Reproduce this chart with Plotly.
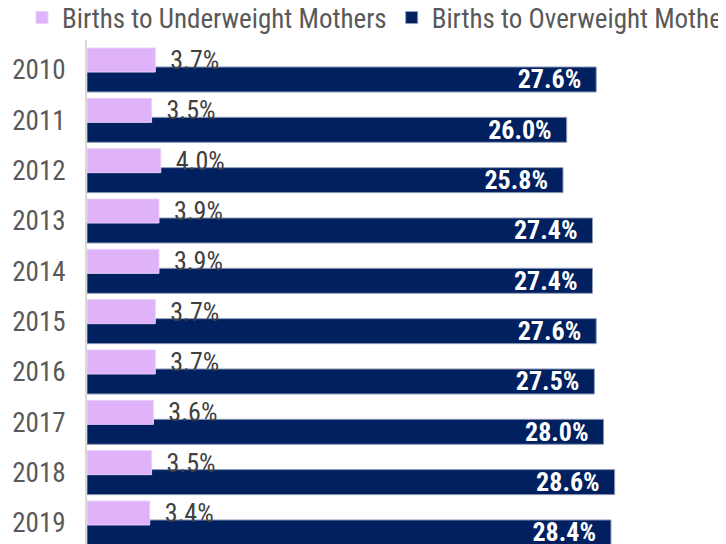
import plotly.graph_objects as go

years = ["2010", "2011", "2012", "2013", "2014", "2015", "2016", "2017", "2018", "2019"]
underweight = [3.7, 3.5, 4.0, 3.9, 3.9, 3.7, 3.7, 3.6, 3.5, 3.4]
overweight = [27.6, 26.0, 25.8, 27.4, 27.4, 27.6, 27.5, 28.0, 28.6, 28.4]
series_names = ["Births to Underweight Mothers", "Births to Overweight Mothers"]

FONT = "Roboto Condensed, Roboto, sans-serif"
PINK = "#DFB2F9"
NAVY = "#002060"
NBSP = "\u00a0"

FIG_W = 950
LEFT = 79
PLOT_H = 568
fig = go.Figure()
fig.add_trace(go.Bar(
    y=years, x=overweight, orientation="h", name=series_names[1],
    marker=dict(color=NAVY, line=dict(color="#8f9cb8", width=1)),
    offset=-0.06, width=0.497,
    texttemplate="%{x:.1f}%" + NBSP * 2, textposition="inside", insidetextanchor="end",
    constraintext="none",
    textfont=dict(family=FONT, size=26, color="white", weight="bold"),
    legendrank=2,
))
fig.add_trace(go.Bar(
    y=years, x=underweight, orientation="h", name=series_names[0],
    marker=dict(color=PINK, line=dict(color="#ebd0fb", width=1)),
    offset=-0.437, width=0.477,
    texttemplate=NBSP * 2 + "%{x:.1f}%", textposition="outside",
    constraintext="none",
    textfont=dict(family=FONT, size=26, color="#404040"),
    cliponaxis=False,
    legendrank=1,
))

fig.update_layout(
    width=FIG_W, height=600,
    margin=dict(l=LEFT, r=0, t=32, b=0, autoexpand=False),
    barmode="overlay",
    plot_bgcolor="white", paper_bgcolor="white",
    font=dict(family=FONT, size=26, color="#595959"),
    showlegend=True,
    legend=dict(orientation="h", xref="container", yref="paper", x=14 / FIG_W, y=1 + 22 / PLOT_H,
                xanchor="left", yanchor="middle", font=dict(family=FONT, size=27, color="#595959"),
                traceorder="normal", bgcolor="rgba(0,0,0,0)"),
)
fig.update_xaxes(range=[0, (FIG_W - LEFT) / 18.45], visible=False)
fig.update_yaxes(type="category", categoryorder="array", categoryarray=years,
                 range=[-0.596 + PLOT_H / 50.33, -0.596],
                 showline=True, linecolor="#d9d9d9", linewidth=2,
                 ticks="outside", ticklen=14, tickcolor="rgba(0,0,0,0)",
                 tickfont=dict(family=FONT, size=27, color="#595959"),
                 showgrid=False, zeroline=False)

fig.write_html("out.html")
